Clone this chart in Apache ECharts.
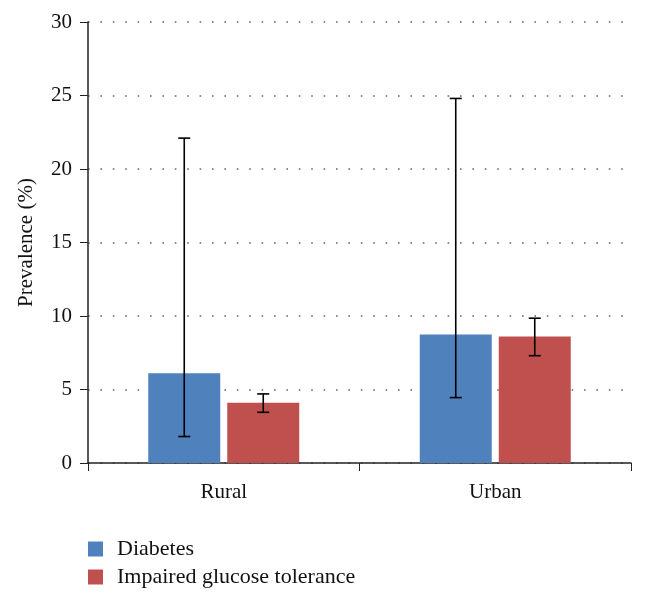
<!DOCTYPE html>
<html>
<head>
<meta charset="utf-8">
<script src="https://cdn.jsdelivr.net/npm/echarts@6/dist/echarts.min.js"></script>
<style>html,body{margin:0;padding:0;background:#fff}#c{width:646px;height:601px}</style>
</head>
<body>
<div id="c"></div>
<script>
const categories = ['Rural', 'Urban'];
const seriesNames = ['Diabetes', 'Impaired glucose tolerance'];
const diabetes = [6.1, 8.75];
const diabetesLow = [1.8, 4.45];
const diabetesHigh = [22.1, 24.8];
const igt = [4.1, 8.6];
const igtLow = [3.45, 7.3];
const igtHigh = [4.7, 9.85];
const yTicks = [0, 5, 10, 15, 20, 25, 30];

const FONT = '"Liberation Serif", "DejaVu Serif", serif';
const BAR_W = 72;
const GAP = 7;
const OFFSET = BAR_W / 2 + GAP / 2;

function errorSeries(low, high, dir) {
  return {
    type: 'custom',
    z: 10,
    silent: true,
    data: categories.map((c, i) => [i, low[i], high[i]]),
    renderItem: function (params, api) {
      const lo = api.coord([api.value(0), api.value(1)]);
      const hi = api.coord([api.value(0), api.value(2)]);
      const x = lo[0] + dir * OFFSET;
      const cap = 6;
      const st = { stroke: '#000', lineWidth: 1.6 };
      return {
        type: 'group',
        children: [
          { type: 'line', shape: { x1: x, y1: lo[1], x2: x, y2: hi[1] }, style: st },
          { type: 'line', shape: { x1: x - cap, y1: lo[1], x2: x + cap, y2: lo[1] }, style: st },
          { type: 'line', shape: { x1: x - cap, y1: hi[1], x2: x + cap, y2: hi[1] }, style: st }
        ]
      };
    }
  };
}

const chart = echarts.init(document.getElementById('c'));
chart.setOption({
  animation: false,
  backgroundColor: '#fff',
  grid: { left: 88, right: 15, top: 22, bottom: 138 },
  legend: {
    orient: 'vertical',
    left: 88,
    top: 538,
    padding: 0,
    itemWidth: 15,
    itemHeight: 15,
    itemGap: 6,
    icon: 'rect',
    textStyle: { fontFamily: FONT, fontSize: 22, lineHeight: 22, color: '#111', padding: [0, 0, 0, 9] },
    data: seriesNames
  },
  xAxis: {
    type: 'category',
    data: categories,
    axisLine: { lineStyle: { color: '#222', width: 1.5 } },
    axisTick: { show: true, length: 8, alignWithLabel: false, lineStyle: { color: '#222' } },
    axisLabel: { fontFamily: FONT, fontSize: 21, color: '#111', margin: 19 },
    splitLine: { show: false }
  },
  yAxis: {
    type: 'value',
    min: yTicks[0],
    max: yTicks[yTicks.length - 1],
    interval: 5,
    name: 'Prevalence (%)',
    nameLocation: 'middle',
    nameGap: 51,
    nameTextStyle: { fontFamily: FONT, fontSize: 21, color: '#111' },
    axisLine: { show: true, lineStyle: { color: '#222', width: 1.5 } },
    axisTick: { show: true, length: 8, lineStyle: { color: '#222' } },
    axisLabel: { fontFamily: FONT, fontSize: 21, color: '#111', margin: 16 },
    splitLine: { show: true, lineStyle: { color: '#666', width: 1.6, type: [1.6, 10.8] } }
  },
  series: [
    {
      name: seriesNames[0],
      type: 'bar',
      data: diabetes,
      barWidth: BAR_W,
      barGap: (GAP / BAR_W * 100) + '%',
      itemStyle: { color: '#4F81BD' }
    },
    {
      name: seriesNames[1],
      type: 'bar',
      data: igt,
      barWidth: BAR_W,
      itemStyle: { color: '#C0504D' }
    },
    errorSeries(diabetesLow, diabetesHigh, -1),
    errorSeries(igtLow, igtHigh, 1)
  ]
});
</script>
</body>
</html>
